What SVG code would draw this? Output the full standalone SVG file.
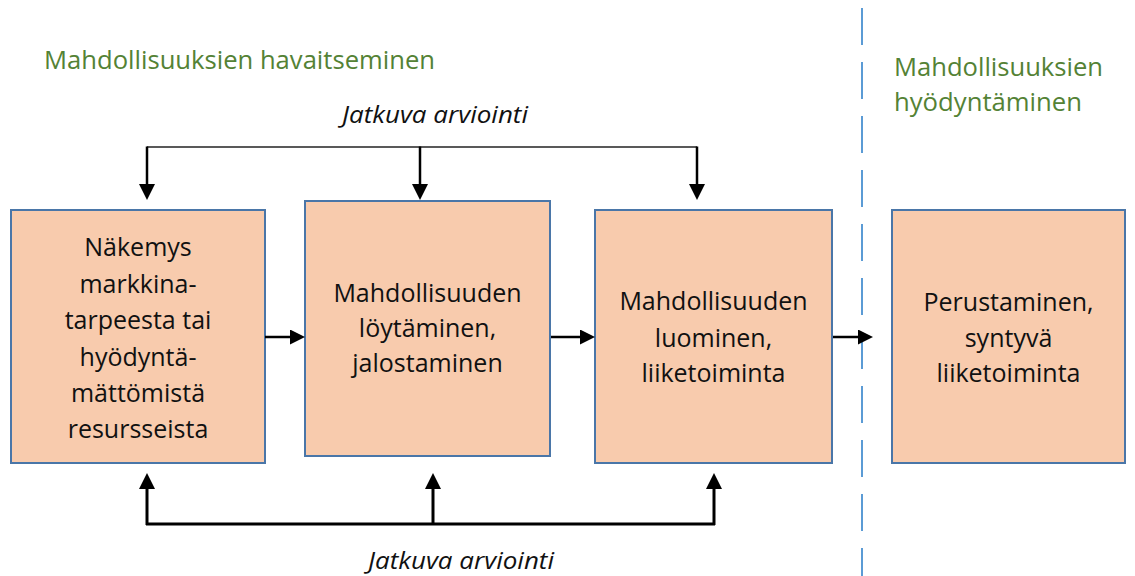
<svg xmlns="http://www.w3.org/2000/svg" width="1135" height="576" viewBox="0 0 1135 576">
<style>
.box{fill:#f8cbad;stroke:#4a76a8;stroke-width:2}
.t{font-family:"Open Sans","Liberation Sans",sans-serif;font-size:25px;fill:#111;text-anchor:middle}
.g{font-family:"Open Sans","Liberation Sans",sans-serif;font-size:25px;fill:#548235}
.i{font-family:"Open Sans","Liberation Sans",sans-serif;font-size:23px;font-style:italic;fill:#111;text-anchor:middle}
.thin{stroke:#222;stroke-width:1.5;fill:none}
.thick{stroke:#000;stroke-width:2.5;fill:none}
.thickb{stroke:#000;stroke-width:3;fill:none}
</style>
<defs>
<marker id="ah" markerUnits="userSpaceOnUse" viewBox="0 0 16 16" refX="0" refY="8" markerWidth="16" markerHeight="16" orient="auto">
<path d="M0,0 L16,8 L0,16 z" fill="#000"/>
</marker>
<marker id="ahs" markerUnits="userSpaceOnUse" viewBox="0 0 15 15" refX="0" refY="7.5" markerWidth="15" markerHeight="15" orient="auto">
<path d="M0,0 L15,7.5 L0,15 z" fill="#000"/>
</marker>
</defs>

<g id="divider">
<line x1="862" y1="8" x2="862" y2="576" stroke="#5b9bd5" stroke-width="2" stroke-dasharray="37,17"/>
</g>

<g id="titles">
<text class="g" x="44" y="69" textLength="391" lengthAdjust="spacingAndGlyphs">Mahdollisuuksien havaitseminen</text>
<text class="g" x="894" y="76" textLength="209" lengthAdjust="spacingAndGlyphs">Mahdollisuuksien</text>
<text class="g" x="894" y="111" textLength="188" lengthAdjust="spacingAndGlyphs">hyödyntäminen</text>
<text class="i" x="435" y="123" textLength="186" lengthAdjust="spacingAndGlyphs">Jatkuva arviointi</text>
<text class="i" x="461" y="569" textLength="186" lengthAdjust="spacingAndGlyphs">Jatkuva arviointi</text>
</g>

<g id="node1">
<rect class="box" x="11" y="210" width="254" height="253"/>
<text class="t" x="138" y="256">Näkemys</text>
<text class="t" x="138" y="293">markkina-</text>
<text class="t" x="138" y="329">tarpeesta tai</text>
<text class="t" x="138" y="366">hyödyntä-</text>
<text class="t" x="138" y="402">mättömistä</text>
<text class="t" x="138" y="438">resursseista</text>
</g>

<g id="node2">
<rect class="box" x="305" y="201" width="245" height="255"/>
<text class="t" x="427.5" y="302">Mahdollisuuden</text>
<text class="t" x="427.5" y="337">löytäminen,</text>
<text class="t" x="427.5" y="372">jalostaminen</text>
</g>

<g id="node3">
<rect class="box" x="595" y="210" width="237" height="253"/>
<text class="t" x="713.5" y="310">Mahdollisuuden</text>
<text class="t" x="713.5" y="347">luominen,</text>
<text class="t" x="713.5" y="382">liiketoiminta</text>
</g>

<g id="node4">
<rect class="box" x="892" y="210" width="233" height="253"/>
<text class="t" x="1008.5" y="311">Perustaminen,</text>
<text class="t" x="1008.5" y="347">syntyvä</text>
<text class="t" x="1008.5" y="382">liiketoiminta</text>
</g>

<g id="connectors">
<polyline class="thin" points="147,147 697,147"/>
<line class="thick" x1="147" y1="146.5" x2="147" y2="184" marker-end="url(#ah)"/>
<line class="thick" x1="420" y1="146.5" x2="420" y2="184" marker-end="url(#ah)"/>
<line class="thick" x1="697" y1="146.5" x2="697" y2="184" marker-end="url(#ah)"/>

<polyline class="thickb" points="146,524 715,524"/>
<line class="thickb" x1="147" y1="525" x2="147" y2="489" marker-end="url(#ah)"/>
<line class="thickb" x1="433" y1="525" x2="433" y2="489" marker-end="url(#ah)"/>
<line class="thickb" x1="714" y1="525" x2="714" y2="489" marker-end="url(#ah)"/>

<line class="thick" x1="265" y1="337" x2="290" y2="337" marker-end="url(#ahs)"/>
<line class="thick" x1="551" y1="337" x2="580" y2="337" marker-end="url(#ahs)"/>
<line class="thick" x1="833" y1="337" x2="858" y2="337" marker-end="url(#ahs)"/>
</g>
</svg>
